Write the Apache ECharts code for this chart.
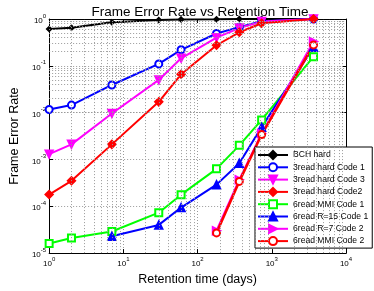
<!DOCTYPE html>
<html><head><meta charset="utf-8">
<script src="https://cdn.jsdelivr.net/npm/echarts@6/dist/echarts.min.js"></script>
<style>html,body{margin:0;padding:0;background:#fff}#c{width:374px;height:291px}</style>
</head><body><div id="c"></div>
<script>
var days = [1, 2, 7, 30, 60, 180, 365, 730, 3650];
var seriesNames = ['BCH hard', '3read hard Code 1', '3read hard Code 3', '3read hard Code2',
  '6read MMI Code 1', '6read R=15 Code 1', '6read R=7 Code 2', '6read MMI Code 2'];
var bchHard      = [0.61, 0.65, 0.85, 0.95, 0.98, 0.99, 1.0, 1.0, 1.0];
var read3Code1   = [0.0117, 0.0145, 0.039, 0.11, 0.22, 0.49, 0.67, 0.9, 1.0];
var read3Code3   = [0.0013, 0.0021, 0.0096, 0.050, 0.145, 0.40, 0.64, 0.88, 1.0];
var read3Code2   = [0.000178, 0.00035, 0.0021, 0.017, 0.066, 0.275, 0.52, 0.81, 1.0];
var mmiCode1     = [0.000016, 0.000021, 0.000029, 0.000073, 0.000177, 0.00063, 0.0020, 0.0070, 0.157];
var r15Code1     = [null, null, 0.000023, 0.000040, 0.000094, 0.00029, 0.00083, 0.0049, 0.25];
var r7Code2      = [null, null, null, null, null, 0.000030, 0.00037, 0.0036, 0.33];
var mmiCode2     = [null, null, null, null, null, 0.000027, 0.00034, 0.0034, 0.28];
var xTicks = [1, 10, 100, 1000, 10000];
var yTicks = [1e-5, 1e-4, 1e-3, 1e-2, 1e-1, 1];

function pairs(vals) {
  var out = [];
  for (var i = 0; i < days.length; i++) if (vals[i] != null) out.push([days[i], vals[i]]);
  return out;
}
var FONT = 'Liberation Sans';
function expLabel(v) {
  var e = Math.round(Math.log10(v));
  return '{b|10}{s|' + e + '}';
}
var labelRich = {
  b: { fontSize: 8, fontFamily: FONT, color: '#000', verticalAlign: 'bottom', lineHeight: 12 },
  s: { fontSize: 6, fontFamily: FONT, color: '#000', verticalAlign: 'top', lineHeight: 12 }
};
var minorX = [], minorY = [];
for (var k = 0; k < 4; k++) for (var m = 2; m <= 9; m++) minorX.push({ xAxis: m * Math.pow(10, k) });
for (var k2 = -5; k2 < 0; k2++) for (var m2 = 2; m2 <= 9; m2++) minorY.push({ yAxis: m2 * Math.pow(10, k2) });
var gridStyle = { color: '#9a9a9a', type: [1, 2], width: 1 };

var styles = [
  { color: '#000000', symbol: 'diamond', size: 5, rot: 0, width: 2 },
  { color: '#0000ff', symbol: 'emptyCircle', size: 7, rot: 0, width: 2 },
  { color: '#ff00ff', symbol: 'triangle', size: 8, rot: 180, width: 2 },
  { color: '#ff0000', symbol: 'diamond', size: 8, rot: 0, width: 2 },
  { color: '#00ff00', symbol: 'emptyRect', size: 7, rot: 0, width: 2 },
  { color: '#0000ff', symbol: 'triangle', size: 8, rot: 0, width: 2 },
  { color: '#ff00ff', symbol: 'triangle', size: 8, rot: -90, width: 2 },
  { color: '#ff0000', symbol: 'emptyCircle', size: 7, rot: 0, width: 2.5 }
];
var allVals = [bchHard, read3Code1, read3Code3, read3Code2, mmiCode1, r15Code1, r7Code2, mmiCode2];

var series = [{
  type: 'line', name: 'grid', data: [], silent: true,
  markLine: {
    silent: true, symbol: ['none', 'none'], label: { show: false },
    lineStyle: gridStyle, animation: false,
    data: minorX.concat(minorY)
  }
}];
for (var i = 0; i < allVals.length; i++) {
  var st = styles[i];
  series.push({
    type: 'line', name: seriesNames[i], data: pairs(allVals[i]),
    symbol: st.symbol, symbolSize: st.size, symbolRotate: st.rot,
    showAllSymbol: true, animation: false,
    lineStyle: { color: st.color, width: st.width },
    itemStyle: { color: st.color, borderColor: st.color, borderWidth: 1.5 }
  });
}

var chart = echarts.init(document.getElementById('c'), null, { renderer: 'canvas' });
chart.setOption({
  backgroundColor: '#fff',
  animation: false,
  title: {
    text: 'Frame Error Rate vs Retention Time', left: 195, top: 0, textAlign: 'center',
    textStyle: { fontFamily: FONT, fontSize: 13.5, fontWeight: 'normal', color: '#000' }
  },
  grid: { left: 44, right: 28, top: 19, bottom: 34, show: false },
  legend: {
    data: seriesNames, orient: 'vertical', left: 255, top: 147,
    backgroundColor: '#fff', borderColor: '#000', borderWidth: 1, borderRadius: 0,
    padding: [3, 4, 2, 2], itemWidth: 30, itemHeight: 10, itemGap: 2.3, itemTextGap: 4,
    textStyle: { fontFamily: FONT, fontSize: 8.6, color: '#000', lineHeight: 10 }
  },
  xAxis: [{
    type: 'log', logBase: 10, min: 1, max: 10000,
    name: 'Retention time (days)', nameLocation: 'middle', nameGap: 15,
    nameTextStyle: { fontFamily: FONT, fontSize: 12.5, color: '#000' },
    axisLine: { show: true, lineStyle: { color: '#000', width: 1 } },
    axisTick: { show: true, inside: true, length: 4, lineStyle: { color: '#000' } },
    axisLabel: { formatter: expLabel, rich: labelRich, margin: 3 },
    splitLine: { show: true, lineStyle: gridStyle }
  }, {
    type: 'log', logBase: 10, min: 1, max: 10000, position: 'top',
    axisLine: { show: true, lineStyle: { color: '#000', width: 1 } },
    axisTick: { show: true, inside: true, length: 4, lineStyle: { color: '#000' } },
    axisLabel: { show: false }, splitLine: { show: false }
  }],
  yAxis: [{
    type: 'log', logBase: 10, min: 1e-5, max: 1,
    name: 'Frame Error Rate', nameLocation: 'middle', nameGap: 25,
    nameTextStyle: { fontFamily: FONT, fontSize: 12.5, color: '#000' },
    axisLine: { show: true, lineStyle: { color: '#000', width: 1 } },
    axisTick: { show: true, inside: true, length: 4, lineStyle: { color: '#000' } },
    axisLabel: { formatter: expLabel, rich: labelRich, margin: 3 },
    splitLine: { show: true, lineStyle: gridStyle }
  }, {
    type: 'log', logBase: 10, min: 1e-5, max: 1, position: 'right',
    axisLine: { show: true, lineStyle: { color: '#000', width: 1 } },
    axisTick: { show: true, inside: true, length: 4, lineStyle: { color: '#000' } },
    axisLabel: { show: false }, splitLine: { show: false }
  }],
  series: series
});
</script></body></html>
